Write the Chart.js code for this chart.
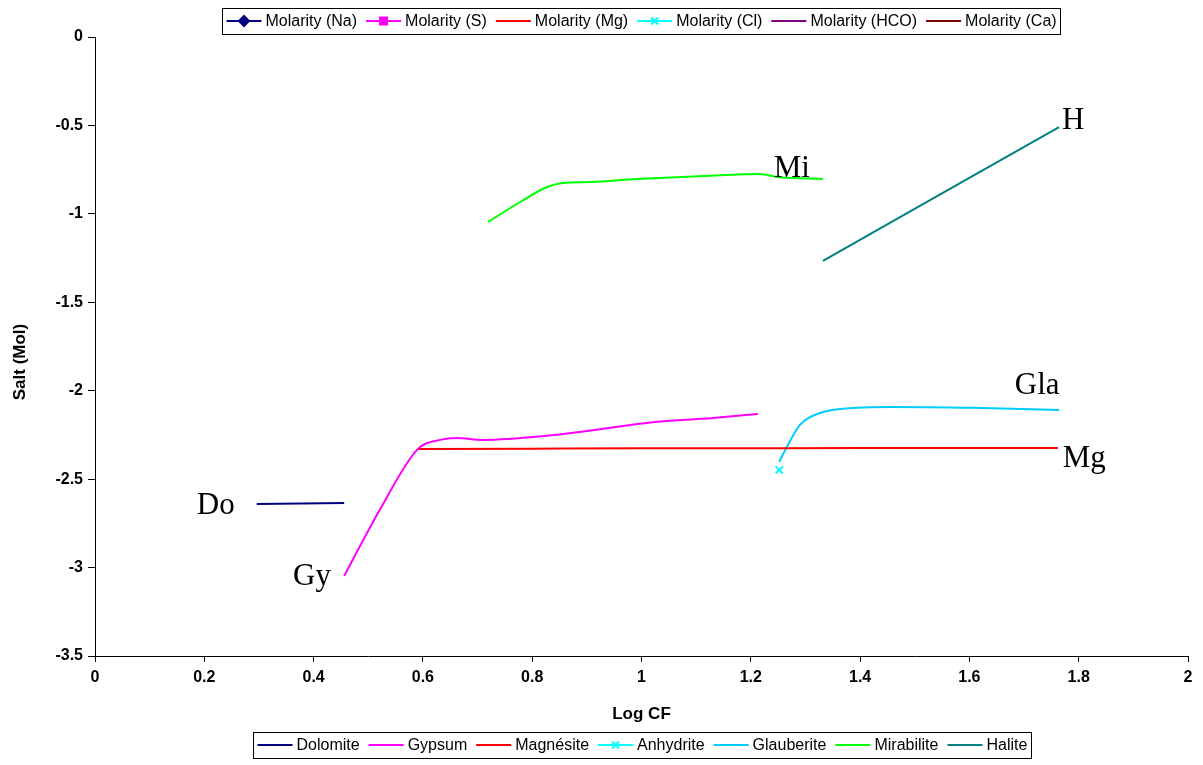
<!DOCTYPE html>
<html>
<head>
<meta charset="utf-8">
<script src="https://cdn.jsdelivr.net/npm/chart.js@4/dist/chart.umd.min.js"></script>
<style>
  html, body { margin: 0; padding: 0; background: #fff; }
  #wrap { width: 1203px; height: 765px; }
</style>
</head>
<body>
<div id="wrap"><canvas id="c"></canvas></div>
<script>
// axis ticks
const xTickVals = [0, 0.2, 0.4, 0.6, 0.8, 1, 1.2, 1.4, 1.6, 1.8, 2]
const xTickLabels = ['0', '0.2', '0.4', '0.6', '0.8', '1', '1.2', '1.4', '1.6', '1.8', '2']
const yTickVals = [0, -0.5, -1, -1.5, -2, -2.5, -3, -3.5]
const yTickLabels = ['0', '-0.5', '-1', '-1.5', '-2', '-2.5', '-3', '-3.5']

// minerals (Log CF vs log molality)
const dolomiteX = [0.296, 0.456]
const dolomiteY = [-2.64, -2.635]

const gypsumX = [0.456, 0.521, 0.591, 0.631, 0.662, 0.71, 0.827, 0.887, 1.01, 1.131, 1.213]
const gypsumY = [-3.047, -2.674, -2.329, -2.278, -2.267, -2.278, -2.255, -2.233, -2.182, -2.154, -2.131]

const magnesiteX = [0.591, 0.8, 1.0, 1.2, 1.4, 1.6, 1.762]
const magnesiteY = [-2.33, -2.328, -2.326, -2.325, -2.324, -2.324, -2.324]

const anhydriteX = [1.252]
const anhydriteY = [-2.448]

const glauberiteX = [1.252, 1.266, 1.29, 1.327, 1.394, 1.455, 1.607, 1.764]
const glauberiteY = [-2.402, -2.318, -2.193, -2.126, -2.097, -2.092, -2.097, -2.109]

const mirabiliteX = [0.719, 0.778, 0.827, 0.856, 0.906, 0.992, 1.113, 1.217, 1.248, 1.332]
const mirabiliteY = [-1.046, -0.933, -0.848, -0.825, -0.82, -0.803, -0.786, -0.774, -0.791, -0.803]

const haliteX = [1.332, 1.764]
const haliteY = [-1.266, -0.509]

// curve labels
const curveLabels = ['Mi', 'H', 'Gla', 'Mg', 'Do', 'Gy']
const curveLabelX = [1.275, 1.79, 1.724, 1.81, 0.221, 0.397]
const curveLabelY = [-0.745, -0.475, -1.97, -2.385, -2.65, -3.055]

function pts (xs, ys) {
  return xs.map((x, i) => ({ x: x, y: ys[i] }))
}

function line (label, color, xs, ys, group, extra) {
  return Object.assign({
    label: label,
    data: pts(xs, ys),
    borderColor: color,
    backgroundColor: color,
    borderWidth: 2,
    showLine: true,
    pointRadius: 0,
    pointHoverRadius: 0,
    cubicInterpolationMode: 'monotone',
    legendGroup: group
  }, extra || {})
}

const datasets = [
  line('Molarity (Na)', '#000080', [], [], 'top', { pointStyle: 'rectRot', legendMarker: true }),
  line('Molarity (S)', '#FF00FF', [], [], 'top', { pointStyle: 'rect', legendMarker: true }),
  line('Molarity (Mg)', '#FF0000', [], [], 'top'),
  line('Molarity (Cl)', '#00FFFF', [], [], 'top', { pointStyle: 'crossRot', legendMarker: true }),
  line('Molarity (HCO)', '#800080', [], [], 'top'),
  line('Molarity (Ca)', '#800000', [], [], 'top'),
  line('Dolomite', '#000080', dolomiteX, dolomiteY, 'bottom'),
  line('Gypsum', '#FF00FF', gypsumX, gypsumY, 'bottom'),
  line('Magnésite', '#FF0000', magnesiteX, magnesiteY, 'bottom'),
  line('Anhydrite', '#00FFFF', anhydriteX, anhydriteY, 'bottom',
    { pointStyle: 'crossRot', pointRadius: 5, borderWidth: 2, legendMarker: true }),
  line('Glauberite', '#00CCFF', glauberiteX, glauberiteY, 'bottom'),
  line('Mirabilite', '#00FF00', mirabiliteX, mirabiliteY, 'bottom'),
  line('Halite', '#008080', haliteX, haliteY, 'bottom')
]

const sans = '"Liberation Sans", Arial, sans-serif'

// two boxed legends, like the spreadsheet original
const boxedLegends = {
  id: 'boxedLegends',
  afterDraw (chart) {
    const ctx = chart.ctx
    const area = chart.chartArea
    const cx = (area.left + area.right) / 2
    const lineLen = 35
    const gapText = 4
    const gapEntry = 9
    const padX = 4
    const boxH = 26
    ctx.save()
    ctx.font = '16px ' + sans
    ;[['top', 21], ['bottom', 745]].forEach(function (g) {
      const items = chart.data.datasets.filter(d => d.legendGroup === g[0])
      const widths = items.map(d => lineLen + gapText + ctx.measureText(d.label).width)
      const total = padX * 2 + widths.reduce((a, b) => a + b, 0) + gapEntry * (items.length - 1)
      let x = Math.round(cx - total / 2) + 0.5
      const cy = g[1]
      ctx.strokeStyle = '#000'
      ctx.lineWidth = 1
      ctx.strokeRect(x, Math.round(cy - boxH / 2) + 0.5, Math.round(total), boxH)
      x += padX
      items.forEach(function (d, i) {
        ctx.strokeStyle = d.borderColor
        ctx.fillStyle = d.borderColor
        ctx.lineWidth = 2
        ctx.beginPath()
        ctx.moveTo(x, cy)
        ctx.lineTo(x + lineLen, cy)
        ctx.stroke()
        if (d.legendMarker) {
          Chart.helpers.drawPoint(ctx, {
            pointStyle: d.pointStyle, radius: 5, borderWidth: 2, rotation: 0
          }, x + lineLen / 2, cy)
        }
        ctx.fillStyle = '#000'
        ctx.textAlign = 'left'
        ctx.textBaseline = 'middle'
        ctx.fillText(d.label, x + lineLen + gapText, cy + 1)
        x += widths[i] + gapEntry
      })
    })
    ctx.restore()
  }
}

const curveNames = {
  id: 'curveNames',
  afterDatasetsDraw (chart) {
    const ctx = chart.ctx
    const xs = chart.scales.x
    const ys = chart.scales.y
    ctx.save()
    ctx.font = '31px "Liberation Serif", "Times New Roman", serif'
    ctx.fillStyle = '#000'
    ctx.textAlign = 'center'
    ctx.textBaseline = 'middle'
    curveLabels.forEach(function (t, i) {
      ctx.fillText(t, xs.getPixelForValue(curveLabelX[i]), ys.getPixelForValue(curveLabelY[i]))
    })
    // y axis title sits a little below the middle in the original
    ctx.font = 'bold 17px ' + sans
    ctx.translate(20, 362)
    ctx.rotate(-Math.PI / 2)
    ctx.fillText('Salt (Mol)', 0, 0)
    ctx.restore()
  }
}

const tickFont = { family: sans, size: 16, weight: 'bold' }
const titleFont = { family: sans, size: 17, weight: 'bold' }

new Chart(document.getElementById('c').getContext('2d'), {
  type: 'scatter',
  data: { datasets: datasets },
  plugins: [boxedLegends, curveNames],
  options: {
    responsive: true,
    maintainAspectRatio: false,
    animation: false,
    layout: { padding: { top: 37, right: 15, bottom: 0, left: 0 } },
    plugins: {
      legend: { display: false },
      tooltip: { enabled: false }
    },
    scales: {
      x: {
        type: 'linear',
        min: 0,
        max: 2,
        afterBuildTicks: function (scale) {
          scale.ticks = xTickVals.map(v => ({ value: v }))
        },
        afterFit: function (scale) { scale.height = 109 },
        ticks: {
          color: '#000',
          font: tickFont,
          padding: 6,
          maxRotation: 0,
          callback: function (v, i) { return xTickLabels[i] }
        },
        grid: { drawOnChartArea: false, drawTicks: true, tickLength: 6, color: '#000' },
        border: { color: '#000', width: 1 },
        title: {
          display: true, text: 'Log CF', color: '#000', font: titleFont,
          padding: { top: 0, bottom: 40 }
        }
      },
      y: {
        type: 'linear',
        min: -3.5,
        max: 0,
        afterBuildTicks: function (scale) {
          scale.ticks = yTickVals.map(v => ({ value: v }))
        },
        afterFit: function (scale) { scale.width = 95 },
        ticks: {
          color: '#000',
          font: tickFont,
          padding: 5,
          callback: function (v, i) { return yTickLabels[i] }
        },
        grid: { drawOnChartArea: false, drawTicks: true, tickLength: 7, color: '#000' },
        border: { color: '#000', width: 1 },
        title: { display: false }
      }
    }
  }
})
</script>
</body>
</html>
